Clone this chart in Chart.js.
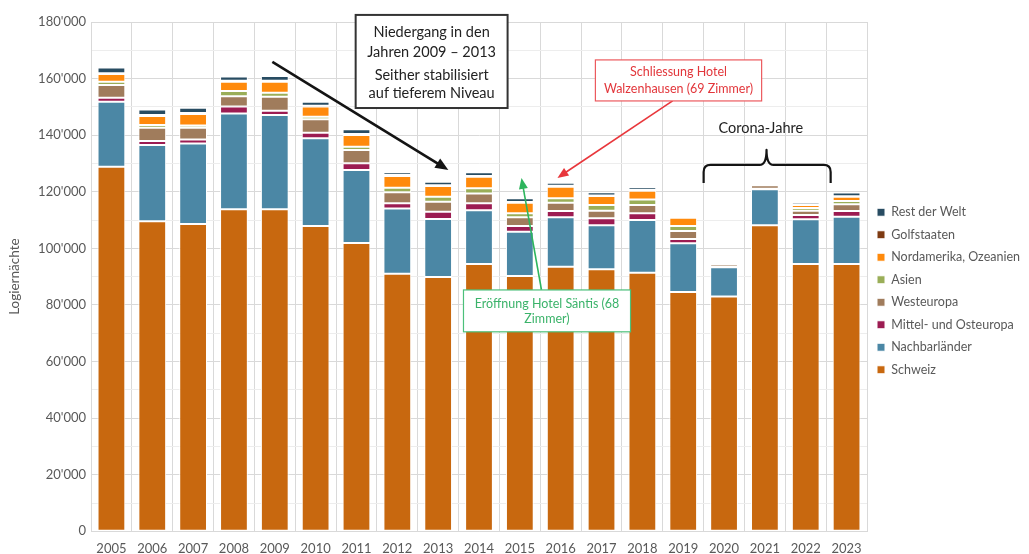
<!DOCTYPE html>
<html><head><meta charset="utf-8">
<script src="https://cdn.jsdelivr.net/npm/chart.js@4.4.1/dist/chart.umd.min.js"></script>
<style>html,body{margin:0;padding:0;background:#fff;}#wrap{width:1029px;height:554px;position:relative;}</style>
</head><body><div id="wrap"><canvas id="c" width="1029" height="554"></canvas></div>
<script>
const years = ['2005','2006','2007','2008','2009','2010','2011','2012','2013','2014','2015','2016','2017','2018','2019','2020','2021','2022','2023'];
const schweiz     = [128800,109600,108600,113800,113800,107900,101900,91000,89900,94500,90200,93500,92600,91400,84600,83000,108200,94500,94500];
const nachbar     = [23000,26900,28500,33900,33300,31000,25800,23100,20500,19000,15700,17500,15600,18600,17200,10300,12700,15800,16700];
const mittelOst   = [1400,1400,1400,2400,1500,2000,2400,1800,2500,2400,2000,2200,2400,2400,1500,200,200,1500,2000];
const westeuropa  = [4500,4700,4100,3700,5000,4700,4700,3900,3600,3500,3100,2900,2700,2900,2800,900,1200,1500,2400];
const asien       = [1200,1000,800,1800,1400,900,1100,1600,1700,1800,1400,1600,2000,2000,1800,100,100,1000,1100];
const nordamerika = [2700,3200,4100,3300,3900,3600,4200,4200,3800,4100,3700,4100,3200,3100,2900,100,100,1000,1500];
const golfstaaten = [300,300,300,300,300,300,300,300,300,300,300,300,200,200,100,50,50,200,200];
const restWelt    = [2000,2000,1900,1500,1700,1400,1700,1000,1200,1300,1300,1100,1100,1000,200,100,100,800,1300];
const seriesNames = ['Schweiz','Nachbarländer','Mittel- und Osteuropa','Westeuropa','Asien','Nordamerika, Ozeanien','Golfstaaten','Rest der Welt'];
const yTicks = [0,10000,20000,30000,40000,50000,60000,70000,80000,90000,100000,110000,120000,130000,140000,150000,160000,170000,180000];

const FONT = "Lato, 'Open Sans', sans-serif";
Chart.defaults.font.family = FONT;
Chart.defaults.color = '#595959';

const colors = ['#C8680F','#4B87A5','#9C1C52','#A07C5C','#9AAE58','#FF8A0C','#7E3A12','#284C62'];
const seriesData = [schweiz,nachbar,mittelOst,westeuropa,asien,nordamerika,golfstaaten,restWelt];

const fmt = v => v === 0 ? '0' : String(v).replace(/\B(?=(\d{3})+(?!\d))/g, "'");

function arrow(ctx, x1, y1, x2, y2, color, w, hl, hw) {
  const a = Math.atan2(y2 - y1, x2 - x1);
  ctx.save();
  ctx.strokeStyle = color; ctx.fillStyle = color; ctx.lineWidth = w;
  ctx.beginPath(); ctx.moveTo(x1, y1);
  ctx.lineTo(x2 - Math.cos(a) * hl * 0.8, y2 - Math.sin(a) * hl * 0.8); ctx.stroke();
  ctx.beginPath(); ctx.moveTo(x2, y2);
  ctx.lineTo(x2 - Math.cos(a) * hl + Math.sin(a) * hw / 2, y2 - Math.sin(a) * hl - Math.cos(a) * hw / 2);
  ctx.lineTo(x2 - Math.cos(a) * hl - Math.sin(a) * hw / 2, y2 - Math.sin(a) * hl + Math.cos(a) * hw / 2);
  ctx.closePath(); ctx.fill();
  ctx.restore();
}

function box(ctx, l, t, r, b, color, lw, lines, font, tcolor, offsets) {
  ctx.save();
  ctx.fillStyle = '#fff'; ctx.fillRect(l, t, r - l, b - t);
  ctx.strokeStyle = color; ctx.lineWidth = lw; ctx.strokeRect(l, t, r - l, b - t);
  ctx.fillStyle = tcolor; ctx.font = font; ctx.textAlign = 'center'; ctx.textBaseline = 'middle';
  lines.forEach((s, i) => ctx.fillText(s, (l + r) / 2, t + offsets[i]));
  ctx.restore();
}

const annotations = {
  id: 'annotations',
  afterLayout(chart) {
    if (chart.legend) { chart.legend.top += 6; }
  },
  beforeInit(chart) {
    const lg = chart.legend;
    if (lg) {
      const orig = lg.fit;
      lg.fit = function () { orig.call(this); if (!this.isHorizontal()) this.width = 162; };
    }
  },
  afterDraw(chart) {
    const ctx = chart.ctx, x = chart.scales.x, y = chart.scales.y;
    const step = x.getPixelForValue(1) - x.getPixelForValue(0);
    const px = i => x.getPixelForValue(0) + i * step;
    const py = v => y.getPixelForValue(v);

    arrow(ctx, px(3.94), py(165900), px(8.25), py(127700), '#141414', 2.6, 13, 11);
    box(ctx, px(5.98), py(182500), px(9.70), py(149600), '#333', 2,
        ['Niedergang in den', 'Jahren 2009 \u2013 2013', 'Seither stabilisiert', 'auf tieferem Niveau'],
        '14.5px ' + FONT, '#222', [17, 37, 60, 78]);

    arrow(ctx, px(13.74), py(152100), px(10.92), py(124900), '#E8373C', 1.6, 11, 9);
    box(ctx, px(11.85), py(166600), px(15.92), py(152100), '#EC5A5E', 1.2,
        ['Schliessung Hotel', 'Walzenhausen (69 Zimmer)'],
        '12.5px ' + FONT, '#E2363B', [12.5, 29.5]);

    arrow(ctx, px(10.53), py(85300), px(10.04), py(124900), '#2DB55D', 1.6, 11, 9);
    box(ctx, px(8.62), py(85300), px(12.71), py(70500), '#4CC07A', 1.2,
        ['Eröffnung Hotel Säntis (68', 'Zimmer)'],
        '12.5px ' + FONT, '#3BB36A', [14, 29.5]);

    const L = px(14.50), R = px(17.61), M = px(16.04);
    const yEnd = py(123100), yBar = py(129500), yTop = py(134800);
    const r = 7;
    ctx.save();
    ctx.strokeStyle = '#141414'; ctx.lineWidth = 2.2; ctx.lineJoin = 'round';
    ctx.beginPath();
    ctx.moveTo(L, yEnd);
    ctx.lineTo(L, yBar + r);
    ctx.quadraticCurveTo(L, yBar, L + r, yBar);
    ctx.lineTo(M - r, yBar);
    ctx.quadraticCurveTo(M, yBar, M, yTop);
    ctx.quadraticCurveTo(M, yBar, M + r, yBar);
    ctx.lineTo(R - r, yBar);
    ctx.quadraticCurveTo(R, yBar, R, yBar + r);
    ctx.lineTo(R, yEnd);
    ctx.stroke();
    ctx.fillStyle = '#222'; ctx.font = '14.5px ' + FONT; ctx.textAlign = 'center'; ctx.textBaseline = 'middle';
    ctx.fillText('Corona-Jahre', px(15.9), py(142500));
    ctx.restore();
  }
};

new Chart(document.getElementById('c'), {
  type: 'bar',
  data: {
    labels: years,
    datasets: seriesNames.map((n, i) => ({
      label: n, data: seriesData[i], backgroundColor: colors[i],
      borderColor: '#ffffff', borderWidth: 1, borderSkipped: false,
      barPercentage: 0.68, categoryPercentage: 1
    }))
  },
  options: {
    responsive: false, animation: false, devicePixelRatio: 1,
    layout: { padding: { top: 22, right: 0, bottom: 0, left: 0 } },
    plugins: {
      legend: {
        position: 'right', reverse: true,
        labels: { boxWidth: 8, boxHeight: 8, padding: 10, color: '#595959', font: { size: 12.5, family: FONT } }
      },
      tooltip: { enabled: false }
    },
    scales: {
      x: {
        stacked: true,
        grid: { color: '#D9D9D9', drawTicks: false },
        border: { color: '#D9D9D9' },
        ticks: { padding: 10, color: '#595959', font: { size: 13, family: FONT }, maxRotation: 0, autoSkip: false },
        afterFit: s => { s.height = 22.7; }
      },
      y: {
        stacked: true, min: 0, max: 180000,
        afterBuildTicks: s => { s.ticks = yTicks.map(v => ({ value: v })); },
        grid: { color: c => (c.tick && c.tick.value % 20000 !== 0) ? '#EDEDED' : '#D9D9D9', drawTicks: false },
        border: { color: '#D9D9D9' },
        ticks: { padding: 5, color: '#595959', font: { size: 13, family: FONT }, callback: v => (v % 20000 === 0 ? fmt(v) : '') },
        title: { display: true, text: 'Logiernächte', color: '#595959', font: { size: 13.5, family: FONT }, padding: { top: 7, bottom: 0 } },
        afterFit: s => { s.width = 91; }
      }
    }
  },
  plugins: [annotations]
});
</script></body></html>
